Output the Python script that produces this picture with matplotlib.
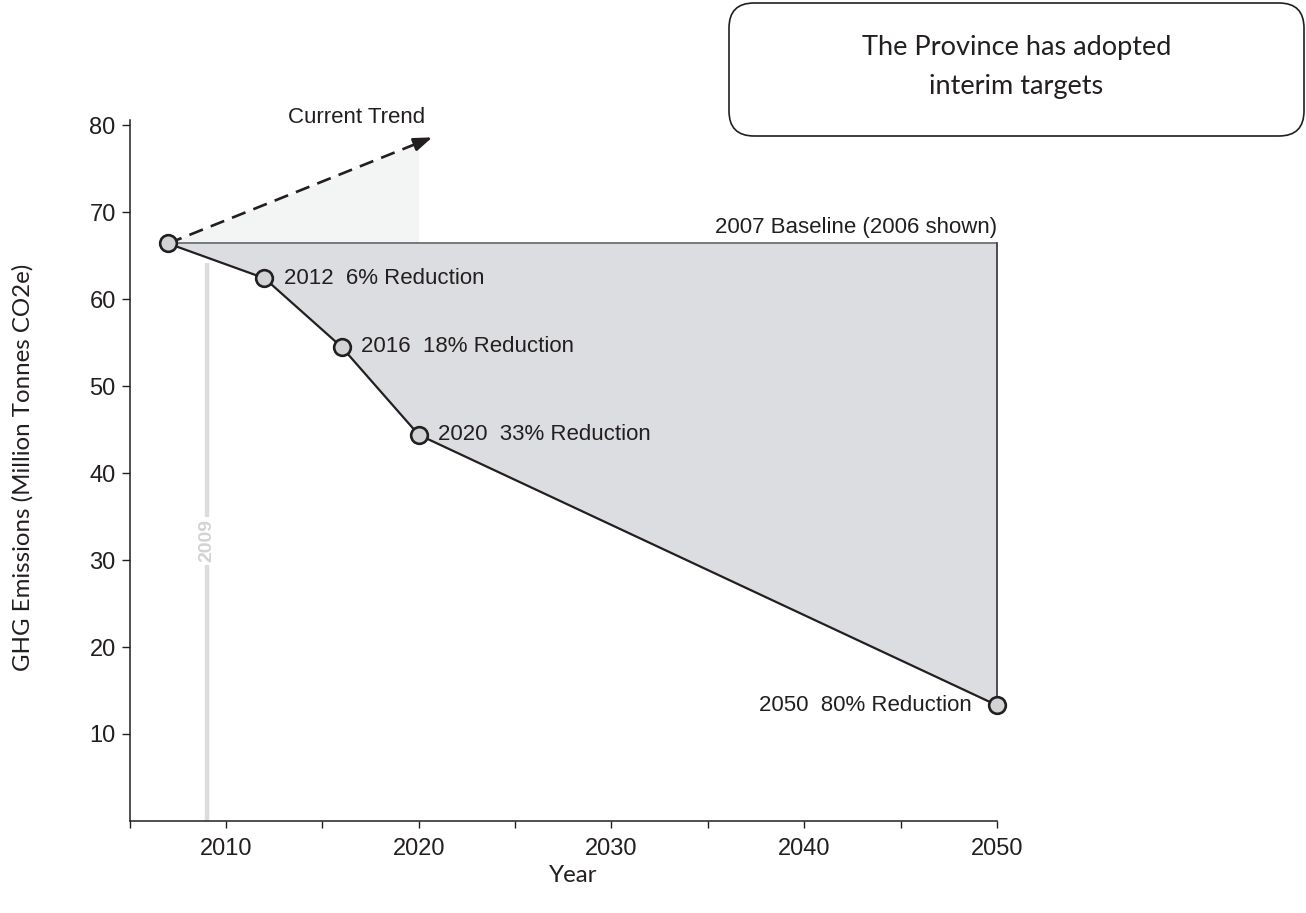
import matplotlib
matplotlib.use('Agg')
import matplotlib.pyplot as plt
import numpy as np
from matplotlib.patches import FancyBboxPatch
from matplotlib.transforms import IdentityTransform

plt.rcParams['font.family'] = ['Liberation Sans', 'DejaVu Sans']

# --- data ---
target_years = [2007, 2012, 2016, 2020, 2050]
target_values = [66.4, 62.4, 54.5, 44.4, 13.3]
target_labels = ['', '2012  6% Reduction', '2016  18% Reduction',
                 '2020  33% Reduction', '2050  80% Reduction']
baseline_value = 66.4
trend_years = [2007, 2020.7]
trend_values = [66.4, 78.6]
trend_fill_end = 2020
year_2009 = 2009
line_2009_top = 64.2

x_major = [2010, 2020, 2030, 2040, 2050]
x_minor = [2005, 2010, 2015, 2020, 2025, 2030, 2035, 2040, 2045, 2050]
y_ticks = [10, 20, 30, 40, 50, 60, 70, 80]

ink = '#231f20'

fig = plt.figure(figsize=(13.06, 9.13), dpi=100)
ax = fig.add_axes([0.0992, 0.1008, 0.6642, 0.7678])

# shaded area between baseline and targets
ax.fill_between(target_years, target_values, baseline_value,
                color='#dcdde0', lw=0, zorder=1)
ax.plot([target_years[0], target_years[-1]], [baseline_value, baseline_value],
        color='#6d6e71', lw=1.3, zorder=2)
ax.plot([target_years[-1], target_years[-1]], [target_values[-1], baseline_value],
        color='#414042', lw=1.3, zorder=2, clip_on=False)

# light area under current trend
fx = np.array([trend_years[0], trend_fill_end])
ax.fill_between(fx, baseline_value, np.interp(fx, trend_years, trend_values),
                color='#f3f4f4', lw=0, zorder=0)

# 2009 marker line
ax.plot([year_2009, year_2009], [0, line_2009_top], color='#dcdcdc', lw=3.2,
        zorder=1, solid_capstyle='butt')
ax.text(year_2009, 32.2, str(year_2009), rotation=90, color='#d3d3d3',
        fontsize=14, fontweight='bold', ha='center', va='center', zorder=2,
        bbox=dict(fc='white', ec='none', pad=1.5))

# current trend dashed arrow
frac = 0.92
mid_x = trend_years[0] + frac * (trend_years[1] - trend_years[0])
mid_y = trend_values[0] + frac * (trend_values[1] - trend_values[0])
ax.plot([trend_years[0], mid_x], [trend_values[0], mid_y], color=ink, lw=1.9,
        dashes=(5.5, 3.2), zorder=3)
ax.annotate('', xy=(trend_years[1], trend_values[1]), xytext=(mid_x, mid_y),
            arrowprops=dict(arrowstyle='-|>,head_length=1.1,head_width=0.4',
                            color=ink, lw=1.9, shrinkA=0, shrinkB=0),
            zorder=3, annotation_clip=False)
ax.text(2016.8, 80.9, 'Current Trend', fontsize=16, color=ink,
        ha='center', va='center')

# target line and markers
ax.plot(target_years, target_values, color=ink, lw=1.6, zorder=4, clip_on=False)
ax.plot(target_years, target_values, 'o', ms=12, mfc='#d1d3d4', mec=ink,
        mew=1.9, zorder=5, clip_on=False)

for yr, val, lab in zip(target_years, target_values, target_labels):
    if not lab:
        continue
    if yr == target_years[-1]:
        ax.annotate(lab, (yr, val), xytext=(-18, 0), textcoords='offset points',
                    ha='right', va='center', fontsize=16, color=ink)
    else:
        ax.annotate(lab, (yr, val), xytext=(14, 0), textcoords='offset points',
                    ha='left', va='center', fontsize=16, color=ink)

ax.annotate('2007 Baseline (2006 shown)', (target_years[-1], baseline_value),
            xytext=(0, 4), textcoords='offset points', ha='right', va='bottom',
            fontsize=16, color=ink, annotation_clip=False)

# axes styling
ax.set_xlim(2005, 2050)
ax.set_ylim(0, 80.6)
ax.set_xticks(x_major)
ax.set_xticks(x_minor, minor=True)
ax.set_yticks(y_ticks)
ax.tick_params(axis='x', which='both', length=5, width=1, color=ink,
               labelsize=17, pad=7, labelcolor=ink)
ax.tick_params(axis='y', length=6, width=1, color=ink, labelsize=17, pad=4,
               labelcolor=ink)
for s in ['top', 'right']:
    ax.spines[s].set_visible(False)
for s in ['left', 'bottom']:
    ax.spines[s].set_color(ink)
    ax.spines[s].set_linewidth(1.1)

fig.text(0.0176, 0.4885, 'GHG Emissions (Million Tonnes CO2e)', rotation=90,
         fontsize=17.3, family=['Lato', 'DejaVu Sans'], color=ink,
         ha='center', va='center')
fig.text(0.4387, 0.0416, 'Year', fontsize=17.3, family=['Lato', 'DejaVu Sans'],
         color=ink, ha='center', va='center')

# call-out box
box = FancyBboxPatch((729, 913 - 136), 575, 133,
                     boxstyle='round,pad=0,rounding_size=25',
                     transform=IdentityTransform(), fc='none', ec=ink, lw=1.2)
fig.add_artist(box)
fig.text(0.7783, 0.927, 'The Province has adopted\ninterim targets',
         fontsize=19.5, family=['Lato', 'DejaVu Sans'], color=ink,
         ha='center', va='center', linespacing=1.7)

fig.savefig('out.png', dpi=100)
